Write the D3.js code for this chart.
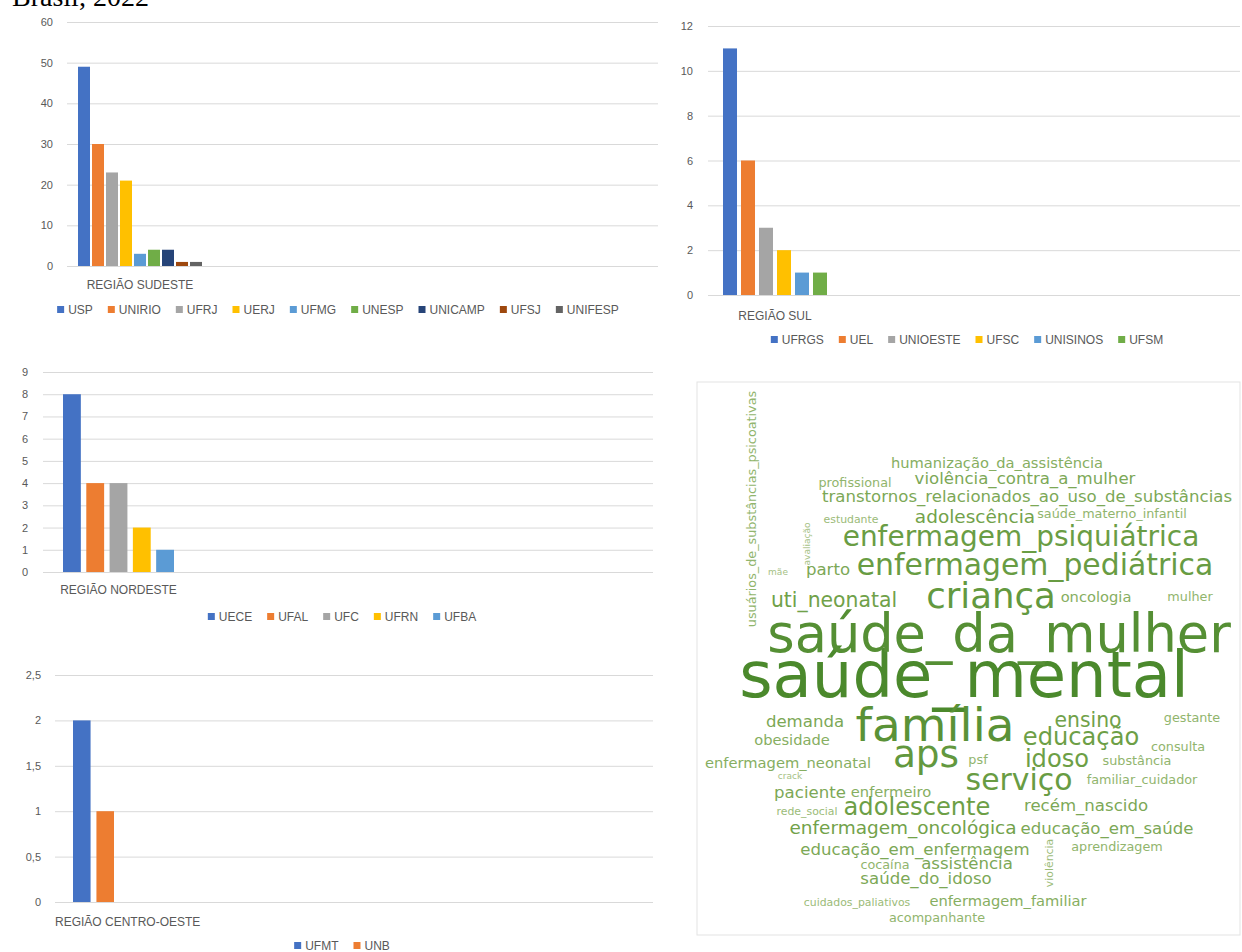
<!DOCTYPE html>
<html>
<head>
<meta charset="utf-8">
<script src="https://cdn.jsdelivr.net/npm/d3@7"></script>
<style>
  body { margin: 0; background: #ffffff; }
</style>
</head>
<body>
<div class="dataviz"></div>
<script>
var sudesteInst = ["USP", "UNIRIO", "UFRJ", "UERJ", "UFMG", "UNESP", "UNICAMP", "UFSJ", "UNIFESP"];
var sudesteVals = [49, 30, 23, 21, 3, 4, 4, 1, 1];
var sudesteTicks = [0, 10, 20, 30, 40, 50, 60];

var sulInst = ["UFRGS", "UEL", "UNIOESTE", "UFSC", "UNISINOS", "UFSM"];
var sulVals = [11, 6, 3, 2, 1, 1];
var sulTicks = [0, 2, 4, 6, 8, 10, 12];

var nordesteInst = ["UECE", "UFAL", "UFC", "UFRN", "UFBA"];
var nordesteVals = [8, 4, 4, 2, 1];
var nordesteTicks = [0, 1, 2, 3, 4, 5, 6, 7, 8, 9];

var centroInst = ["UFMT", "UNB"];
var centroVals = [2, 1];
var centroTicks = [0, 0.5, 1, 1.5, 2, 2.5];

var regioes = ["REGIÃO SUDESTE", "REGIÃO SUL", "REGIÃO NORDESTE", "REGIÃO CENTRO-OESTE"];

// nuvem de palavras: termo e frequencia
var words = ["saúde_mental", "saúde_da_mulher", "família", "aps", "criança",
  "enfermagem_pediátrica", "enfermagem_psiquiátrica", "serviço", "adolescente", "idoso",
  "educação", "uti_neonatal", "ensino", "demanda", "adolescência",
  "enfermagem_oncológica", "transtornos_relacionados_ao_uso_de_substâncias", "violência_contra_a_mulher", "educação_em_saúde", "educação_em_enfermagem",
  "recém_nascido", "assistência", "saúde_do_idoso", "paciente", "obesidade",
  "enfermeiro", "enfermagem_neonatal", "parto", "oncologia", "humanização_da_assistência",
  "profissional", "saúde_materno_infantil", "mulher", "gestante", "consulta",
  "substância", "familiar_cuidador", "aprendizagem", "cocaína", "acompanhante",
  "enfermagem_familiar", "usuários_de_substâncias_psicoativas", "estudante", "psf", "rede_social",
  "cuidados_paliativos", "violência", "avaliação", "mãe", "crack"];
var wordFreq = [30, 24, 21, 16, 15,
  12, 11, 12, 9, 9,
  9, 7, 7, 5, 6,
  6, 5, 5, 5, 5,
  5, 5, 5, 5, 4,
  4, 4, 5, 4, 4,
  3, 3, 3, 3, 3,
  3, 3, 3, 3, 3,
  4, 3, 2, 3, 2,
  2, 2, 1, 1, 1];

// posicao de cada termo na nuvem (saida do layout): [x centro, linha de base, rotacao]
var cloudLayout = [[267, 315, 0], [302, 270, 0], [238, 359, 0], [229, 385, 0], [294, 226, 0],
  [338, 193, 0], [324, 164, 0], [322, 408, 0], [220, 433, 0], [360, 385, 0],
  [384, 363, 0], [137, 225, 0], [391, 345, 0], [108, 345, 0], [278, 141, 0],
  [206, 452, 0], [330, 120, 0], [328, 102, 0], [410, 452, 0], [218, 473, 0],
  [389, 429, 0], [270, 487, 0], [229, 502, 0], [113, 416, 0], [95, 363, 0],
  [194, 415, 0], [91, 386, 0], [131, 193, 0], [399, 220, 0], [300, 86, 0],
  [158, 105, 0], [415, 136, 0], [493, 219, 0], [495, 340, 0], [481, 369, 0],
  [440, 383, 0], [445, 402, 0], [420, 469, 0], [188, 487, 0], [240, 540, 0],
  [311, 524, 0], [59, 127, -90], [154, 141, 0], [281, 382, 0], [110, 433, 0],
  [160, 524, 0], [356, 481, -90], [113, 162, -90], [81, 193, 0], [93, 397, 0]];

var officeColors = ["#4472C4", "#ED7D31", "#A5A5A5", "#FFC000", "#5B9BD5", "#70AD47", "#264478", "#9E480E", "#636363"];
var sansFont = "'Liberation Sans', Arial, sans-serif";
var cloudFont = "'DejaVu Sans', Verdana, sans-serif";

var canvas = d3.select(".dataviz").append("svg")
  .attr("width", 1242)
  .attr("height", 952);

canvas.append("rect")
  .attr("x", 0).attr("y", 0)
  .attr("width", 1242).attr("height", 952)
  .attr("fill", "#ffffff");

// titulo cortado no topo
canvas.append("text")
  .attr("x", 12)
  .attr("y", 6)
  .style("font-family", "'Liberation Serif', 'Times New Roman', serif")
  .style("font-size", "28px")
  .attr("fill", "#000")
  .text("Brasil, 2022");

var ptBR = d3.formatLocale({decimal: ",", thousands: ".", grouping: [3], currency: ["R$", ""]});
var tickFmt = ptBR.format("~g");

var panels = [
  {names: sudesteInst, vals: sudesteVals, ticks: sudesteTicks, region: regioes[0],
   left: 67, right: 658, top: 22, bottom: 266, labelX: 53,
   barLeft: 78, barRight: 202, pad: 0.143, catY: 289, legY: 310, legCenter: 338},
  {names: sulInst, vals: sulVals, ticks: sulTicks, region: regioes[1],
   left: 708, right: 1240, top: 26, bottom: 295, labelX: 693,
   barLeft: 723, barRight: 827, pad: 0.222, catY: 320, legY: 340, legCenter: 967},
  {names: nordesteInst, vals: nordesteVals, ticks: nordesteTicks, region: regioes[2],
   left: 43, right: 653, top: 372, bottom: 572, labelX: 28,
   barLeft: 63, barRight: 174, pad: 0.234, catY: 594, legY: 617, legCenter: 342},
  {names: centroInst, vals: centroVals, ticks: centroTicks, region: regioes[3],
   left: 55, right: 653, top: 675, bottom: 902, labelX: 41,
   barLeft: 73, barRight: 114, pad: 0.25, catY: 926, legY: 946, legCenter: 342}
];

panels.forEach(function(p) {
  var g = canvas.append("g");
  var y = d3.scaleLinear()
    .domain([0, d3.max(p.ticks)])
    .range([p.bottom, p.top]);
  var x = d3.scaleBand()
    .domain(p.names)
    .range([p.barLeft, p.barRight])
    .paddingInner(p.pad)
    .paddingOuter(0);

  var axis = g.append("g")
    .attr("transform", "translate(" + p.left + ",0)")
    .call(d3.axisLeft(y)
      .tickValues(p.ticks)
      .tickFormat(tickFmt)
      .tickSize(-(p.right - p.left))
      .tickPadding(p.left - p.labelX));
  axis.select(".domain").remove();
  axis.selectAll(".tick line").attr("stroke", "#d9d9d9");
  axis.selectAll(".tick text")
    .attr("fill", "#595959")
    .style("font-family", sansFont)
    .style("font-size", "11px");

  g.selectAll(".bar").data(p.vals).enter()
    .append("rect")
    .attr("x", function(d, i) { return x(p.names[i]); })
    .attr("y", function(d) { return y(d); })
    .attr("width", x.bandwidth())
    .attr("height", function(d) { return p.bottom - y(d); })
    .attr("fill", function(d, i) { return officeColors[i]; });

  var cat = g.append("text")
    .attr("y", p.catY)
    .attr("text-anchor", "middle")
    .attr("fill", "#595959")
    .style("font-family", sansFont)
    .style("font-size", "12px")
    .text(p.region);
  var cw = cat.node().getComputedTextLength();
  var cx = Math.max((p.barLeft + p.barRight) / 2, p.left + cw / 2);
  cat.attr("x", cx);

  // legenda centrada
  var leg = g.append("g");
  var pos = 0;
  p.names.forEach(function(n, i) {
    leg.append("rect")
      .attr("x", pos).attr("y", -4)
      .attr("width", 7).attr("height", 7)
      .attr("fill", officeColors[i]);
    var t = leg.append("text")
      .attr("x", pos + 11)
      .attr("y", 0)
      .attr("dy", "0.35em")
      .attr("fill", "#595959")
      .style("font-family", sansFont)
      .style("font-size", "12px")
      .text(n);
    pos += 11 + t.node().getComputedTextLength() + 15;
  });
  pos -= 15;
  leg.attr("transform", "translate(" + (p.legCenter - pos / 2) + "," + p.legY + ")");
});

// nuvem de palavras
var cloudX = 697, cloudY = 382, cloudW = 543, cloudH = 553;
canvas.append("rect")
  .attr("x", cloudX).attr("y", cloudY)
  .attr("width", cloudW).attr("height", cloudH)
  .attr("fill", "#ffffff")
  .attr("stroke", "#e3e3e3")
  .attr("stroke-width", 1);

var cx = d3.scaleLinear().domain([0, cloudW]).range([cloudX, cloudX + cloudW]);
var cy = d3.scaleLinear().domain([0, cloudH]).range([cloudY, cloudY + cloudH]);
var sizeScale = d3.scaleLinear().domain([1, 30]).range([9, 64]);
var colorScale = d3.scaleLinear().domain([1, 6, 30]).range(["#a5c184", "#72a24a", "#4b892c"]);

canvas.append("g").selectAll("text").data(words).enter()
  .append("text")
  .attr("text-anchor", "middle")
  .attr("transform", function(d, i) {
    var l = cloudLayout[i];
    return "translate(" + cx(l[0]) + "," + cy(l[1]) + ") rotate(" + l[2] + ")";
  })
  .style("font-family", cloudFont)
  .style("font-size", function(d, i) { return sizeScale(wordFreq[i]) + "px"; })
  .attr("fill", function(d, i) { return colorScale(wordFreq[i]); })
  .text(function(d) { return d; });
</script>
</body>
</html>
